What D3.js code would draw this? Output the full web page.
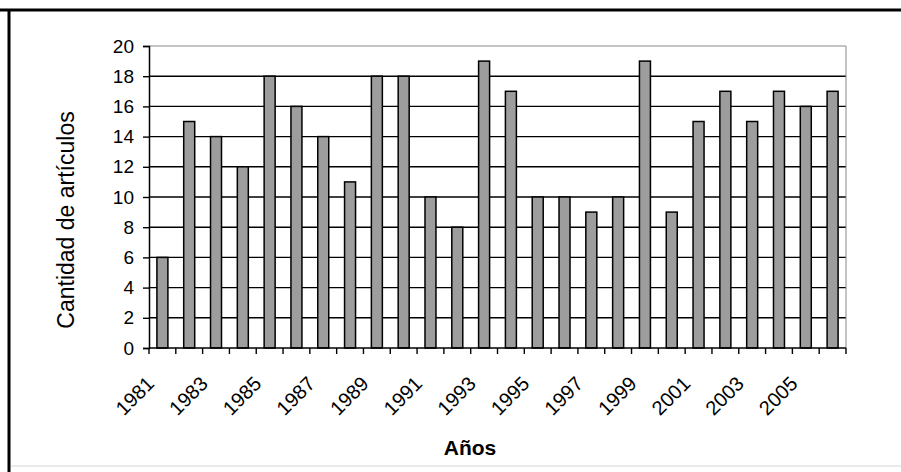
<!DOCTYPE html>
<html>
<head>
<meta charset="utf-8">
<script src="https://cdn.jsdelivr.net/npm/d3@7"></script>
<style>
  body { margin: 0; background: #fff; }
  svg { display: block; font-family: "Liberation Sans", Arial, sans-serif; }
</style>
</head>
<body>
<svg id="chart" width="901" height="472"></svg>
<script>
// data
const years = [1981, 1982, 1983, 1984, 1985, 1986, 1987, 1988, 1989, 1990, 1991, 1992, 1993,
  1994, 1995, 1996, 1997, 1998, 1999, 2000, 2001, 2002, 2003, 2004, 2005, 2006];
const articles = [6, 15, 14, 12, 18, 16, 14, 11, 18, 18, 10, 8, 19,
  17, 10, 10, 9, 10, 19, 9, 15, 17, 15, 17, 16, 17];
const yTicks = [0, 2, 4, 6, 8, 10, 12, 14, 16, 18, 20];
const xLabels = [1981, 1983, 1985, 1987, 1989, 1991, 1993, 1995, 1997, 1999, 2001, 2003, 2005];

const width = 901, height = 472;
const plot = { left: 149, right: 846, top: 46, bottom: 348 };

const svg = d3.select("#chart");

// outer frame
svg.append("line").attr("x1", 0).attr("x2", width).attr("y1", 10).attr("y2", 10)
  .attr("stroke", "#000").attr("stroke-width", 3);
svg.append("line").attr("x1", 9).attr("x2", 9).attr("y1", 9).attr("y2", height)
  .attr("stroke", "#000").attr("stroke-width", 3);
svg.append("line").attr("x1", 11).attr("x2", width).attr("y1", 466).attr("y2", 466)
  .attr("stroke", "#e4e4e4").attr("stroke-width", 1.5);

const x = d3.scaleBand()
  .domain(years)
  .range([plot.left, plot.right])
  .paddingInner(0.59)
  .paddingOuter(0.295);

const xCat = d3.scaleBand().domain(years).range([plot.left, plot.right]);

const y = d3.scaleLinear().domain([0, 20]).range([plot.bottom, plot.top]);

// gridlines
svg.append("g").selectAll("line")
  .data(yTicks.filter(d => d > 0))
  .join("line")
  .attr("x1", plot.left).attr("x2", plot.right)
  .attr("y1", d => y(d)).attr("y2", d => y(d))
  .attr("stroke", d => d === 20 ? "#888" : "#000")
  .attr("stroke-width", d => d === 20 ? 1 : 1.4);

// right edge of plot area
svg.append("line").attr("x1", plot.right).attr("x2", plot.right)
  .attr("y1", plot.top).attr("y2", plot.bottom)
  .attr("stroke", "#888").attr("stroke-width", 1);

// bars
svg.append("g").selectAll("rect")
  .data(years)
  .join("rect")
  .attr("x", d => x(d))
  .attr("y", (d, i) => y(articles[i]))
  .attr("width", x.bandwidth())
  .attr("height", (d, i) => y(0) - y(articles[i]))
  .attr("fill", "#9d9d9d")
  .attr("stroke", "#000")
  .attr("stroke-width", 1.5);

// y axis
const yAxis = svg.append("g")
  .attr("transform", `translate(${plot.left},0)`)
  .call(d3.axisLeft(y).tickValues(yTicks).tickSize(6).tickPadding(9).tickFormat(d3.format("d")));
yAxis.select(".domain").attr("stroke", "#000").attr("stroke-width", 1.5);
yAxis.selectAll(".tick line").attr("stroke", "#000").attr("stroke-width", 1.4);
yAxis.selectAll(".tick text")
  .attr("font-family", "Liberation Sans, Arial, sans-serif")
  .attr("font-size", 19).attr("fill", "#000");

// x axis line and ticks at category boundaries
svg.append("line").attr("x1", plot.left).attr("x2", plot.right)
  .attr("y1", plot.bottom).attr("y2", plot.bottom)
  .attr("stroke", "#000").attr("stroke-width", 1.5);
const bounds = years.map(d => xCat(d)).concat([plot.right]);
svg.append("g").selectAll("line")
  .data(bounds)
  .join("line")
  .attr("x1", d => d).attr("x2", d => d)
  .attr("y1", plot.bottom).attr("y2", plot.bottom + 6)
  .attr("stroke", "#000").attr("stroke-width", 1.4);

// x tick labels, rotated
svg.append("g").selectAll("text")
  .data(xLabels)
  .join("text")
  .attr("transform", d => `translate(${xCat(d) + xCat.bandwidth() / 2 - 7},${plot.bottom + 37}) rotate(-45)`)
  .attr("text-anchor", "end")
  .attr("font-size", 20)
  .attr("fill", "#000")
  .text(d => d);

// axis titles
svg.append("text")
  .attr("transform", `translate(74,${(plot.top + plot.bottom) / 2 + 23}) rotate(-90)`)
  .attr("text-anchor", "middle")
  .attr("font-size", 23)
  .attr("fill", "#000")
  .text("Cantidad de artículos");

svg.append("text")
  .attr("x", 470).attr("y", 455)
  .attr("text-anchor", "middle")
  .attr("font-size", 21)
  .attr("font-weight", "bold")
  .attr("fill", "#000")
  .text("Años");
</script>
</body>
</html>
